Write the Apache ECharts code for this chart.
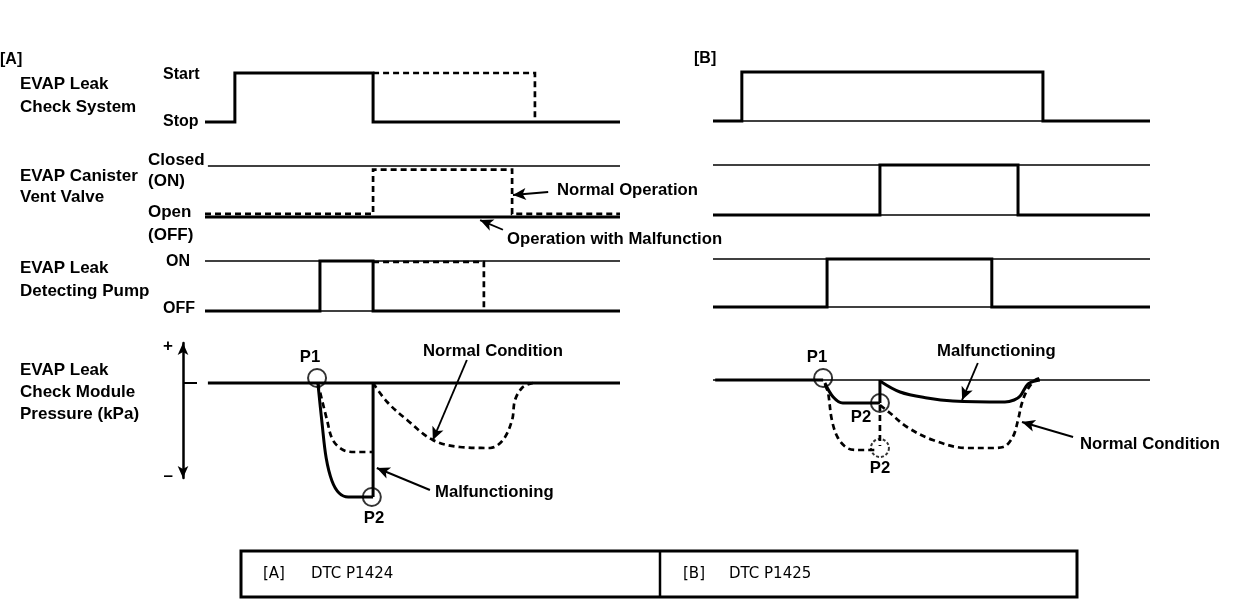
<!DOCTYPE html>
<html>
<head>
<meta charset="utf-8">
<script src="https://cdn.jsdelivr.net/npm/echarts@6/dist/echarts.min.js"></script>
<style>
html,body{margin:0;padding:0;background:#fff;}
#main{width:1248px;height:604px;}
</style>
</head>
<body>
<div id="main"></div>
<script>
// ---------- DATA (time axis 0..100, digital level 0..1, pressure relative units) ----------
// Panel [A]  DTC P1424
const A_systemSolid   = [[0,0],[7.2,0],[7.2,1],[40.5,1],[40.5,0],[100,0]];
const A_systemNormal  = [[40.5,1],[79.5,1],[79.5,0]];
const A_valveClosedRef= [[0.7,1],[100,1]];
const A_valveMalfunc  = [[0,0],[100,0]];
const A_valveNormal   = [[0,0.06],[40.5,0.06],[40.5,0.93],[74.0,0.93],[74.0,0.06],[100,0.06]];
const A_pumpOnRef     = [[0,1],[100,1]];
const A_pumpOffRef    = [[0,0],[100,0]];
const A_pumpSolid     = [[0,0],[27.7,0],[27.7,1],[40.5,1],[40.5,0],[100,0]];
const A_pumpNormal    = [[40.5,0.98],[67.2,0.98],[67.2,0]];
const A_presBase      = [[0.7,0],[100,0]];
const A_presMalfunc   = [[27.2,0],[28.2,-0.40],[29.2,-0.75],[30.6,-0.98],[32.3,-1.10],[34.5,-1.14],[40.5,-1.14]];
const A_presMalVert   = [[40.5,-1.14],[40.5,0]];
const A_presNormal1   = [[27.2,0],[29.4,-0.37],[30.8,-0.57],[33.3,-0.67],[36.1,-0.69],[40.5,-0.69]];
const A_presNormal2   = [[40.5,0],[43.9,-0.19],[48.7,-0.37],[54.9,-0.57],[61.4,-0.64],[68.7,-0.65],[71.8,-0.57],[74.0,-0.37],[74.7,-0.17],[76.6,-0.04],[79.0,0]];
const A_P1 = [[27.0,0.05]];
const A_P2 = [[40.2,-1.14]];

// Panel [B]  DTC P1425
const B_systemRef     = [[0,0],[100,0]];
const B_systemSolid   = [[0,0],[6.6,0],[6.6,1],[75.5,1],[75.5,0],[100,0]];
const B_valveTopRef   = [[0,1],[100,1]];
const B_valveBotRef   = [[0,0],[100,0]];
const B_valveSolid    = [[0,0],[38.2,0],[38.2,1],[69.8,1],[69.8,0],[100,0]];
const B_pumpTopRef    = [[0,1],[100,1]];
const B_pumpBotRef    = [[0,0],[100,0]];
const B_pumpSolid     = [[0,0],[26.1,0],[26.1,1],[63.8,1],[63.8,0],[100,0]];
const B_presRef       = [[0,0],[100,0]];
const B_presBase      = [[0.5,0],[25.2,0]];
const B_presMal1      = [[25.6,-0.03],[27.5,-0.17],[29.7,-0.23],[33.6,-0.23],[38.2,-0.23]];
const B_presMalVert   = [[38.2,-0.23],[38.2,0]];
const B_presMal2      = [[38.2,-0.01],[42.8,-0.12],[49.0,-0.18],[54.9,-0.21],[66.8,-0.22],[68.9,-0.20],[70.3,-0.16],[72.1,-0.04],[74.8,0]];
const B_presNorm1     = [[25.6,-0.05],[26.3,-0.12],[27.2,-0.40],[28.6,-0.58],[30.7,-0.68],[33.0,-0.70],[37.5,-0.70]];
const B_presNormVert  = [[38.2,-0.25],[38.2,-0.66]];
const B_presNorm2     = [[38.2,-0.25],[40.5,-0.33],[44.4,-0.47],[50.3,-0.60],[58.1,-0.68],[63.4,-0.68],[66.4,-0.67],[68.6,-0.57],[69.8,-0.40],[70.7,-0.23],[71.9,-0.10],[73.7,0],[74.8,0.02]];
const B_P1  = [[25.2,0.02]];
const B_P2  = [[38.2,-0.23]];
const B_P2n = [[38.2,-0.68]];

// Annotation arrows (from -> tip), in each grid's data units
const A_valveArrows = [[[82.7,0.49],[74.2,0.43]],[[71.8,-0.25],[66.3,-0.06]]];
const A_presArrows  = [[[63.1,0.23],[54.9,-0.57]],[[54.2,-1.07],[41.4,-0.85]]];
const B_presArrows  = [[[60.6,0.17],[57.0,-0.20]],[[82.4,-0.57],[70.7,-0.42]]];

// Tick labels / text
const pressureTickLabels = ['+','\u2013'];
const rowTitles = [['EVAP Leak','Check System'],['EVAP Canister','Vent Valve'],['EVAP Leak','Detecting Pump'],['EVAP Leak','Check Module','Pressure (kPa)']];
const stateLabels = ['Start','Stop','Closed','(ON)','Open','(OFF)','ON','OFF'];
const panelTitles = ['[A]','[B]'];
const tableCells = [['[A]','DTC P1424'],['[B]','DTC P1425']];

// ---------- LAYOUT ----------
const FONT = '"Liberation Sans", Arial, Helvetica, sans-serif';
const THICK = 3, THIN = 1.6, DW = 2.7, DASH = [6,4];
// [top, height, yMin, yMax]
const gridsA = [[73,49,0,1],[166,76.5,-0.5,1],[261,50,0,1],[343,200,-1.6,0.4]];
const gridsB = [[72,49,0,1],[165,50,0,1],[259,48,0,1],[340,135,-0.95,0.4]];
const grid = [], xAxis = [], yAxis = [];
gridsA.forEach(g => grid.push({left:205, width:415, top:g[0], height:g[1]}));
gridsB.forEach(g => grid.push({left:713, width:437, top:g[0], height:g[1]}));
grid.push({left:205, width:415, top:343, height:135}); // grid 8: visible pressure axis of panel A
const allG = gridsA.concat(gridsB);
for (let i = 0; i < 8; i++) {
  xAxis.push({type:'value', gridIndex:i, min:0, max:100, show:false});
  yAxis.push({type:'value', gridIndex:i, min:allG[i][2], max:allG[i][3], show:false, splitLine:{show:false}});
}
xAxis.push({type:'value', gridIndex:8, min:0, max:100, show:false});
yAxis.push({type:'value', gridIndex:8, min:-0.95, max:0.4, offset:22, show:true,
  axisLine:{show:true, onZero:false, symbol:['arrow','arrow'], symbolSize:[8,12], lineStyle:{color:'#000', width:2.5}},
  axisTick:{show:true, customValues:[0], inside:true, length:14, lineStyle:{color:'#000', width:2}},
  axisLabel:{show:true, customValues:[0.37,-0.93], formatter:v => v > 0 ? pressureTickLabels[0] : pressureTickLabels[1],
    color:'#000', fontWeight:'bold', fontSize:17, fontFamily:FONT, margin:10},
  splitLine:{show:false}});

function L(g, data, width, dashed, extra) {
  return Object.assign({type:'line', xAxisIndex:g, yAxisIndex:g, data:data, symbol:'none', silent:true, clip:false,
    animation:false, z:3, lineStyle:{color:'#000', width:width, type:dashed ? DASH : 'solid', cap:'butt', join:'miter'}}, extra || {});
}
function arrows(list) {
  return {silent:true, animation:false, symbol:['none','arrow'], symbolSize:[9,13], precision:4,
    label:{show:false}, lineStyle:{color:'#000', width:1.9, type:'solid'},
    emphasis:{disabled:true},
    data:list.map(a => [{coord:a[0]},{coord:a[1]}])};
}
function circles(g, data, dashed) {
  return {type:'scatter', xAxisIndex:g, yAxisIndex:g, data:data, symbol:'circle', symbolSize:18, silent:true, clip:false,
    animation:false, z:4, itemStyle:{color:'rgba(0,0,0,0)', borderColor:'#000', borderWidth:2, borderType:dashed ? [3,2] : 'solid'}};
}
const SM = {smooth:0.35};

const series = [
  // A1
  L(0, A_systemSolid, THICK), L(0, A_systemNormal, DW, true),
  // A2
  L(1, A_valveClosedRef, THIN), L(1, A_valveMalfunc, THICK, false, {markLine:arrows(A_valveArrows)}), L(1, A_valveNormal, DW, true),
  // A3
  L(2, A_pumpOnRef, THIN), L(2, A_pumpOffRef, THIN), L(2, A_pumpSolid, THICK), L(2, A_pumpNormal, DW, true),
  // A4
  L(3, A_presBase, THICK, false, {markLine:arrows(A_presArrows)}),
  L(3, A_presMalfunc, THICK, false, SM),
  L(3, A_presMalVert, THICK),
  L(3, A_presNormal1, DW, true, SM),
  L(3, A_presNormal2, DW, true, SM),
  circles(3, A_P1), circles(3, A_P2),
  // B1
  L(4, B_systemRef, THIN), L(4, B_systemSolid, THICK),
  // B2
  L(5, B_valveTopRef, THIN), L(5, B_valveBotRef, THIN), L(5, B_valveSolid, THICK),
  // B3
  L(6, B_pumpTopRef, THIN), L(6, B_pumpBotRef, THIN), L(6, B_pumpSolid, THICK),
  // B4
  L(7, B_presRef, THIN, false, {markLine:arrows(B_presArrows)}), L(7, B_presBase, THICK),
  L(7, B_presMal1, THICK, false, SM),
  L(7, B_presMalVert, THICK),
  L(7, B_presMal2, THICK, false, SM),
  L(7, B_presNorm1, DW, true, SM),
  L(7, B_presNormVert, DW, true),
  L(7, B_presNorm2, DW, true, SM),
  circles(7, B_P1), circles(7, B_P2), circles(7, B_P2n, true)
];

// ---------- TEXT ----------
const graphic = [];
function T(text, x, y, opt) {
  opt = opt || {};
  graphic.push({type:'text', x:x, y:y, silent:true, z:10,
    style:{text:text, fill:'#000', font:(opt.font || ('bold ' + (opt.size || 16.7) + 'px ' + FONT)),
      align:opt.align || 'left', verticalAlign:'middle', textAlign:opt.align || 'left', textVerticalAlign:'middle'}});
}
T(panelTitles[0], 0, 60, {size:16});
T(panelTitles[1], 694, 59, {size:16});
const titleY = [[84,107],[176,197],[268,291],[370,392,414]];
rowTitles.forEach((lines, i) => lines.forEach((s, j) => T(s, 20, titleY[i][j], {size:17})));
const stateXY = [[163,75],[163,122],[148,160],[148,181],[148,212],[148,235],[166,262],[163,309]];
stateLabels.forEach((s, i) => T(s, stateXY[i][0], stateXY[i][1], {size:i >= 2 && i <= 5 ? 17 : 16}));
T('Normal Operation', 557, 190);
T('Operation with Malfunction', 507, 239);
T('Normal Condition', 423, 351);
T('Malfunctioning', 435, 492);
T('P1', 310, 357, {align:'center'});
T('P2', 374, 518, {align:'center'});
T('P1', 817, 357, {align:'center'});
T('Malfunctioning', 937, 351);
T('P2', 861, 417, {align:'center'});
T('P2', 880, 468, {align:'center'});
T('Normal Condition', 1080, 444);
// bottom table
graphic.push({type:'rect', silent:true, shape:{x:241, y:551, width:836, height:46}, style:{fill:'none', stroke:'#000', lineWidth:3}});
graphic.push({type:'line', silent:true, shape:{x1:660, y1:551, x2:660, y2:597}, style:{stroke:'#000', lineWidth:2.5}});
const TF = 'normal 15px "DejaVu Sans", "Liberation Sans", sans-serif';
T(tableCells[0][0], 263, 574, {font:TF});
T(tableCells[0][1], 311, 574, {font:TF});
T(tableCells[1][0], 683, 574, {font:TF});
T(tableCells[1][1], 729, 574, {font:TF});

const chart = echarts.init(document.getElementById('main'), null, {renderer:'canvas'});
chart.setOption({animation:false, backgroundColor:'#fff', grid, xAxis, yAxis, series, graphic});
</script>
</body>
</html>
